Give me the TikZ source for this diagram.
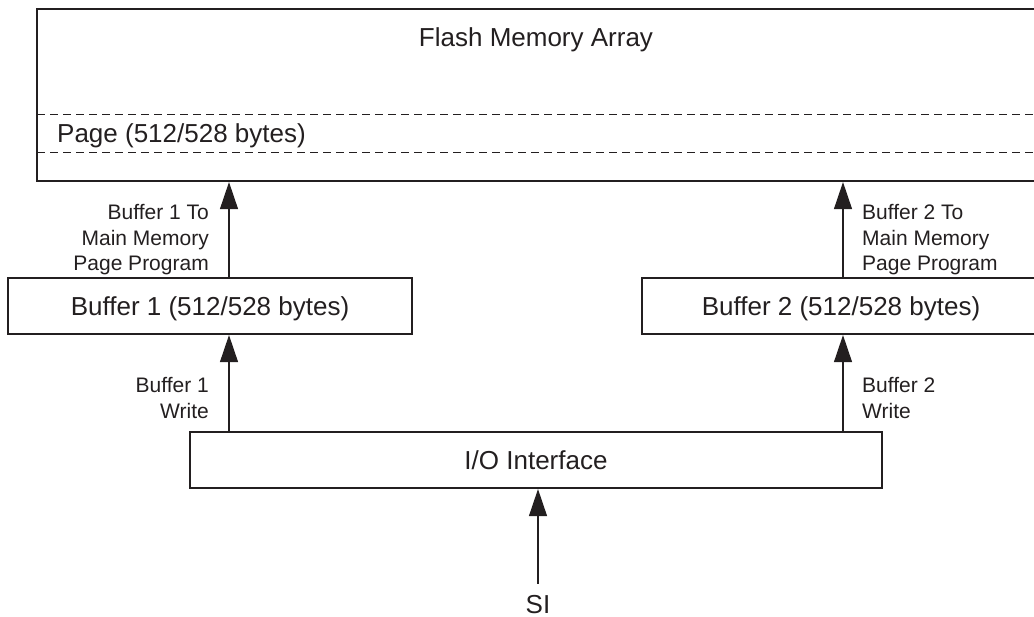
\documentclass[tikz,border=0pt]{standalone}
\usepackage{fontspec}
\setmainfont{Liberation Sans}
\usetikzlibrary{arrows.meta}
\definecolor{ink}{HTML}{231F20}

\begin{document}
\begin{tikzpicture}[x=1pt,y=-1pt, color=ink,
  blk/.style={draw, line width=2.2pt, rectangle, inner sep=0pt, minimum height=56pt,
    text height=19pt, text depth=0pt, font=\fontsize{26}{31}\selectfont},
  big/.style={font=\fontsize{26}{31}\selectfont, inner sep=0pt},
  lbl/.style={font=\fontsize{21}{25.5}\selectfont, inner sep=0pt},
  flow/.style={-{Triangle[length=27pt,width=18pt]}, line width=1.1pt},
  pagesep/.style={line width=0.9pt, dash pattern=on 8pt off 5pt}]
\useasboundingbox (0,0) rectangle (1034,617);
\clip (0,0) rectangle (1034,617);

\node[blk, minimum width=1003pt, minimum height=172pt] (flash) at (538.5,95) {};
\node[big, anchor=base] (title) at (536,47) {Flash Memory Array};
\draw[pagesep] (37,114) -- (1040,114);
\draw[pagesep] (37,152) -- (1040,152);
\node[big, anchor=base west] (page) at (57,143) {Page (512/528 bytes)};

\node[blk, minimum width=404pt] (buf1) at (210,306) {Buffer 1 (512/528 bytes)};
\node[blk, minimum width=398pt] (buf2) at (841,306) {Buffer 2 (512/528 bytes)};
\node[blk, minimum width=692pt] (io) at (536,460) {I/O Interface};
\node[big, anchor=base] (si) at (538,613) {SI};

\coordinate (a1) at (229,0);
\coordinate (a2) at (843,0);

\node[lbl, anchor=east, align=right] (prog1) at (209,240) {Buffer 1 To\\Main Memory\\Page Program};
\node[lbl, anchor=west, align=left] (prog2) at (862,240) {Buffer 2 To\\Main Memory\\Page Program};
\node[lbl, anchor=east, align=right] (wr1) at (209,398) {Buffer 1\\Write};
\node[lbl, anchor=west, align=left] (wr2) at (862,398) {Buffer 2\\Write};

\draw[flow] (buf1.north -| a1) -- (flash.south -| a1);
\draw[flow] (buf2.north -| a2) -- (flash.south -| a2);
\draw[flow] (io.north -| a1) -- (buf1.south -| a1);
\draw[flow] (io.north -| a2) -- (buf2.south -| a2);
\draw[flow] ([yshift=11pt]si.north) -- (io.south -| si);
\end{tikzpicture}
\end{document}
